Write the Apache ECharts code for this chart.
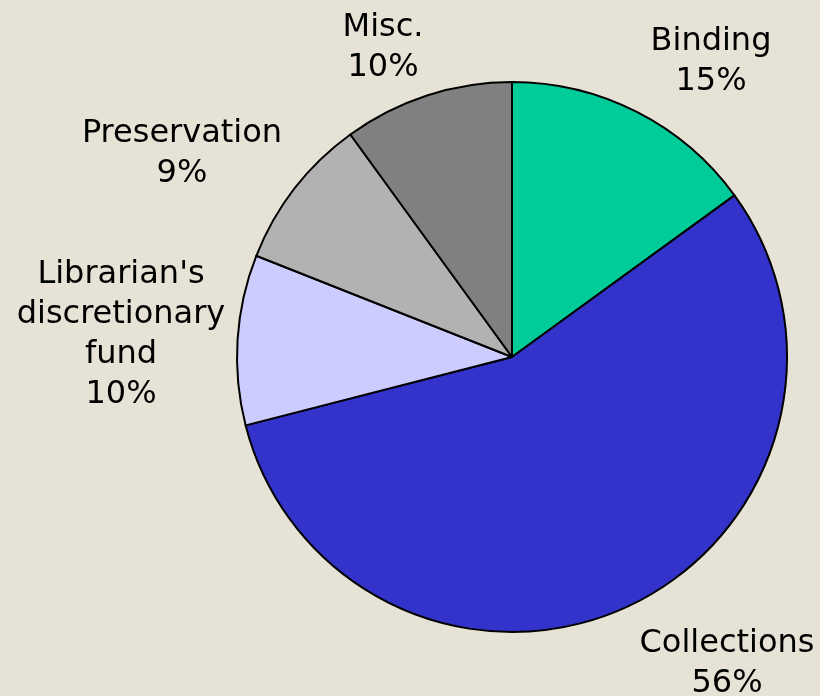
<!DOCTYPE html>
<html>
<head>
<meta charset="utf-8">
<script src="https://cdn.jsdelivr.net/npm/echarts@6/dist/echarts.min.js"></script>
<style>
  html, body { margin: 0; padding: 0; background: #e6e3d6; }
  #chart { width: 820px; height: 696px; }
</style>
</head>
<body>
<div id="chart"></div>
<script>
// budget shares, clockwise from 12 o'clock
const categories = ['Binding', 'Collections', "Librarian's\ndiscretionary\nfund", 'Preservation', 'Misc.']
const shares = [15, 56, 10, 9, 10]
const colors = ['#00cc99', '#3333cc', '#ccccff', '#b2b2b2', '#808080']

// where each label block is centred (Excel puts them by hand, more or less)
const labelAnchor = [[711, 62], [727, 664], [121, 335], [182, 154], [383, 48]]

const chart = echarts.init(document.getElementById('chart'))

chart.setOption({
  backgroundColor: '#e6e3d6',
  animation: false,
  series: [{
    type: 'pie',
    center: [512, 357],
    radius: 275,
    startAngle: 90,
    clockwise: true,
    avoidLabelOverlap: false,
    itemStyle: { borderColor: '#000', borderWidth: 2 },
    emphasis: { disabled: true },
    labelLine: { show: false },
    label: {
      position: 'outside',
      color: '#000',
      fontFamily: 'DejaVu Sans',
      fontSize: 32,
      lineHeight: 40,
      formatter: p => (p.name + '\n' + p.value + '%').split('\n').map(s => '{t|' + s + '}').join('\n'),
      rich: {
        t: { align: 'center', fontFamily: 'DejaVu Sans', fontSize: 32, lineHeight: 40, color: '#000' }
      }
    },
    labelLayout: p => ({
      x: labelAnchor[p.dataIndex][0],
      y: labelAnchor[p.dataIndex][1],
      align: 'center',
      verticalAlign: 'middle'
    }),
    data: categories.map((name, i) => ({
      name,
      value: shares[i],
      itemStyle: { color: colors[i] }
    }))
  }]
})
</script>
</body>
</html>
